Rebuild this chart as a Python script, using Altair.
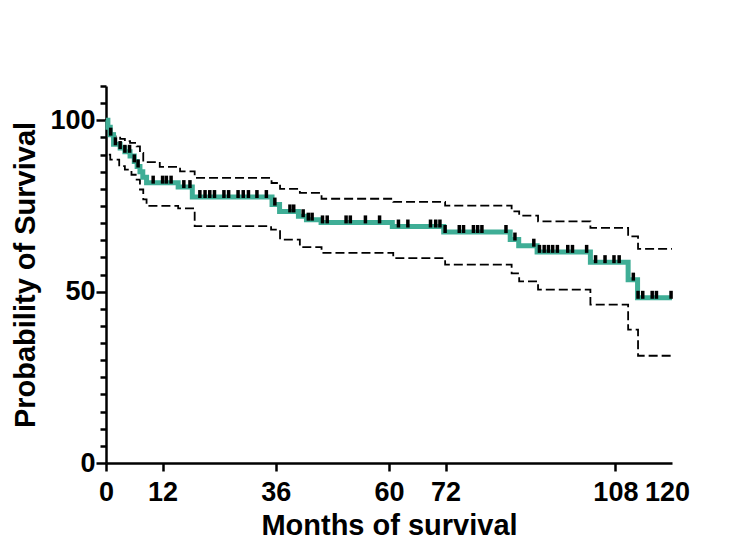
import altair as alt
import pandas as pd
import numpy as np

# Kaplan-Meier estimate (months, % surviving)
curve_t = [0, 0.4, 0.9, 1.6, 3.0, 4.0, 5.1, 6.0, 6.6, 7.2, 7.8, 8.6, 15.3, 18.3,
           35.2, 36.8, 40.8, 42.5, 45.6, 60.7, 71.6, 85.7, 87.5, 91.4, 102.7, 110.7, 112.7]
curve_s = [100, 98.0, 95.8, 93.0, 91.9, 90.8, 89.6, 88.0, 86.5, 85.0, 83.4, 81.8, 80.5, 77.6,
           75.4, 73.4, 72.0, 71.0, 70.2, 69.0, 67.4, 65.2, 63.4, 61.6, 58.6, 53.5, 48.2]

# upper 95% CI
upper_t = [0.9, 1.9, 3.0, 4.0, 5.1, 6.5, 7.2, 7.9, 11.4, 15.7, 18.8,
           35.1, 36.9, 41.1, 45.7, 60.9, 71.9, 86.0, 87.6, 91.6, 102.7, 110.7, 112.8]
upper_s = [96.1, 95.3, 94.6, 93.9, 93.4, 92.4, 90.5, 87.8, 86.4, 85.1, 83.2,
           81.7, 80.0, 78.8, 77.1, 76.2, 75.1, 73.4, 72.2, 70.5, 68.6, 66.1, 62.5]

# lower 95% CI
lower_t = [0.6, 0.9, 2.8, 4.0, 5.4, 6.5, 7.2, 7.9, 8.6, 15.3, 18.8,
           35.0, 36.9, 41.1, 45.7, 60.9, 71.9, 86.0, 87.6, 91.6, 102.7, 110.7, 112.8]
lower_s = [90.0, 88.5, 86.6, 85.6, 84.1, 82.7, 79.8, 76.9, 75.0, 74.3, 69.1,
           68.1, 65.2, 63.0, 61.3, 59.8, 57.9, 55.3, 53.0, 50.6, 46.2, 38.9, 31.3]

# censored observations (months)
censor_t = [1.0, 2.0, 3.0, 4.0, 5.0, 6.0, 6.8, 10.0, 12.0, 12.8, 13.8, 16.5, 17.8, 19.9,
            21.0, 22.0, 23.0, 25.0, 26.0, 28.0, 29.1, 30.2, 32.0, 34.0, 35.8, 39.0, 39.8,
            41.8, 42.9, 43.7, 45.9, 46.9, 50.9, 51.8, 55.0, 58.0, 62.0, 64.0, 68.8, 69.9,
            70.8, 71.9, 74.9, 75.8, 77.9, 78.8, 79.7, 84.8, 86.7, 90.7, 91.9, 92.9, 93.8,
            94.7, 95.7, 97.9, 98.9, 101.9, 103.8, 105.8, 107.7, 108.8, 111.8, 112.8, 113.8,
            115.8, 116.7, 119.8]

END = 120
x_ticks = [0, 12, 36, 60, 72, 108]
x_end_label = [120]
y_major = [0, 50, 100]
y_minor = [v for v in range(5, 111, 5) if v not in (50, 100)]


def steps(t, s):
    return pd.DataFrame({"t": list(t) + [END], "s": list(s) + [s[-1]]})


curve_df = steps(curve_t, curve_s)
upper_df = steps(upper_t, upper_s)
lower_df = steps(lower_t, lower_s)
idx = np.searchsorted(np.array(curve_t), np.array(censor_t), side="right") - 1
censor_df = pd.DataFrame({"t": censor_t, "s": [curve_s[i] for i in idx]})

FONT = "Liberation Sans"
xscale = alt.Scale(domain=[0, 120], nice=False, zero=False)
yscale = alt.Scale(domain=[0, 110], nice=False)

x_enc = alt.X("t:Q", scale=xscale, axis=alt.Axis(
    values=x_ticks, title="Months of survival", grid=False, tickSize=8,
    labelPadding=8, titlePadding=6, labelFlush=False))
x_end_enc = alt.X("t:Q", scale=xscale, axis=alt.Axis(
    values=x_end_label, title=None, grid=False, tickSize=8, tickOpacity=0,
    domain=False, labelPadding=8, labelFlush=False, labelOffset=-5,
    orient="bottom"))
y_enc = alt.Y("s:Q", scale=yscale, axis=alt.Axis(
    values=y_major, title="Probability of Survival", grid=False, tickSize=10,
    labelPadding=1, titlePadding=9))

y_minor_enc = alt.Y("s:Q", scale=yscale, axis=alt.Axis(
    values=y_minor, title=None, labels=False, domain=False, grid=False,
    tickSize=6, orient="left"))

dash = [9, 4]
upper = alt.Chart(upper_df).mark_line(interpolate="step-after", color="black",
                                      strokeWidth=1.8, strokeDash=dash).encode(x=x_enc, y=y_enc)
lower = alt.Chart(lower_df).mark_line(interpolate="step-after", color="black",
                                      strokeWidth=1.8, strokeDash=dash).encode(x=x_enc, y=y_enc)
curve = alt.Chart(curve_df).mark_line(interpolate="step-after", color="#3FAE96",
                                      strokeWidth=5).encode(x=x_enc, y=y_enc)
ticks = alt.Chart(censor_df).mark_tick(color="black", thickness=3.5, size=8, yOffset=-3,
                                       opacity=1).encode(x=x_enc, y=y_enc)
minor = alt.Chart(censor_df).mark_point(opacity=0).encode(x=x_end_enc, y=y_minor_enc)

main = alt.layer(upper, lower, curve, ticks)
chart = alt.layer(main, minor).resolve_axis(y="independent", x="independent").properties(
    width=566, height=377,
    padding={"left": 98, "top": 78, "right": 60, "bottom": 100},
    autosize=alt.AutoSizeParams(type="none"),
).configure_view(stroke=None).configure_axis(
    domainColor="black", domainWidth=2.5, tickColor="black", tickWidth=2.5,
    labelFont=FONT, labelFontSize=27, labelFontWeight="bold", labelColor="black",
    titleFont=FONT, titleFontSize=29, titleFontWeight="bold", titleColor="black",
)

chart.save("out.html", embed_options={"renderer": "svg", "actions": False})
